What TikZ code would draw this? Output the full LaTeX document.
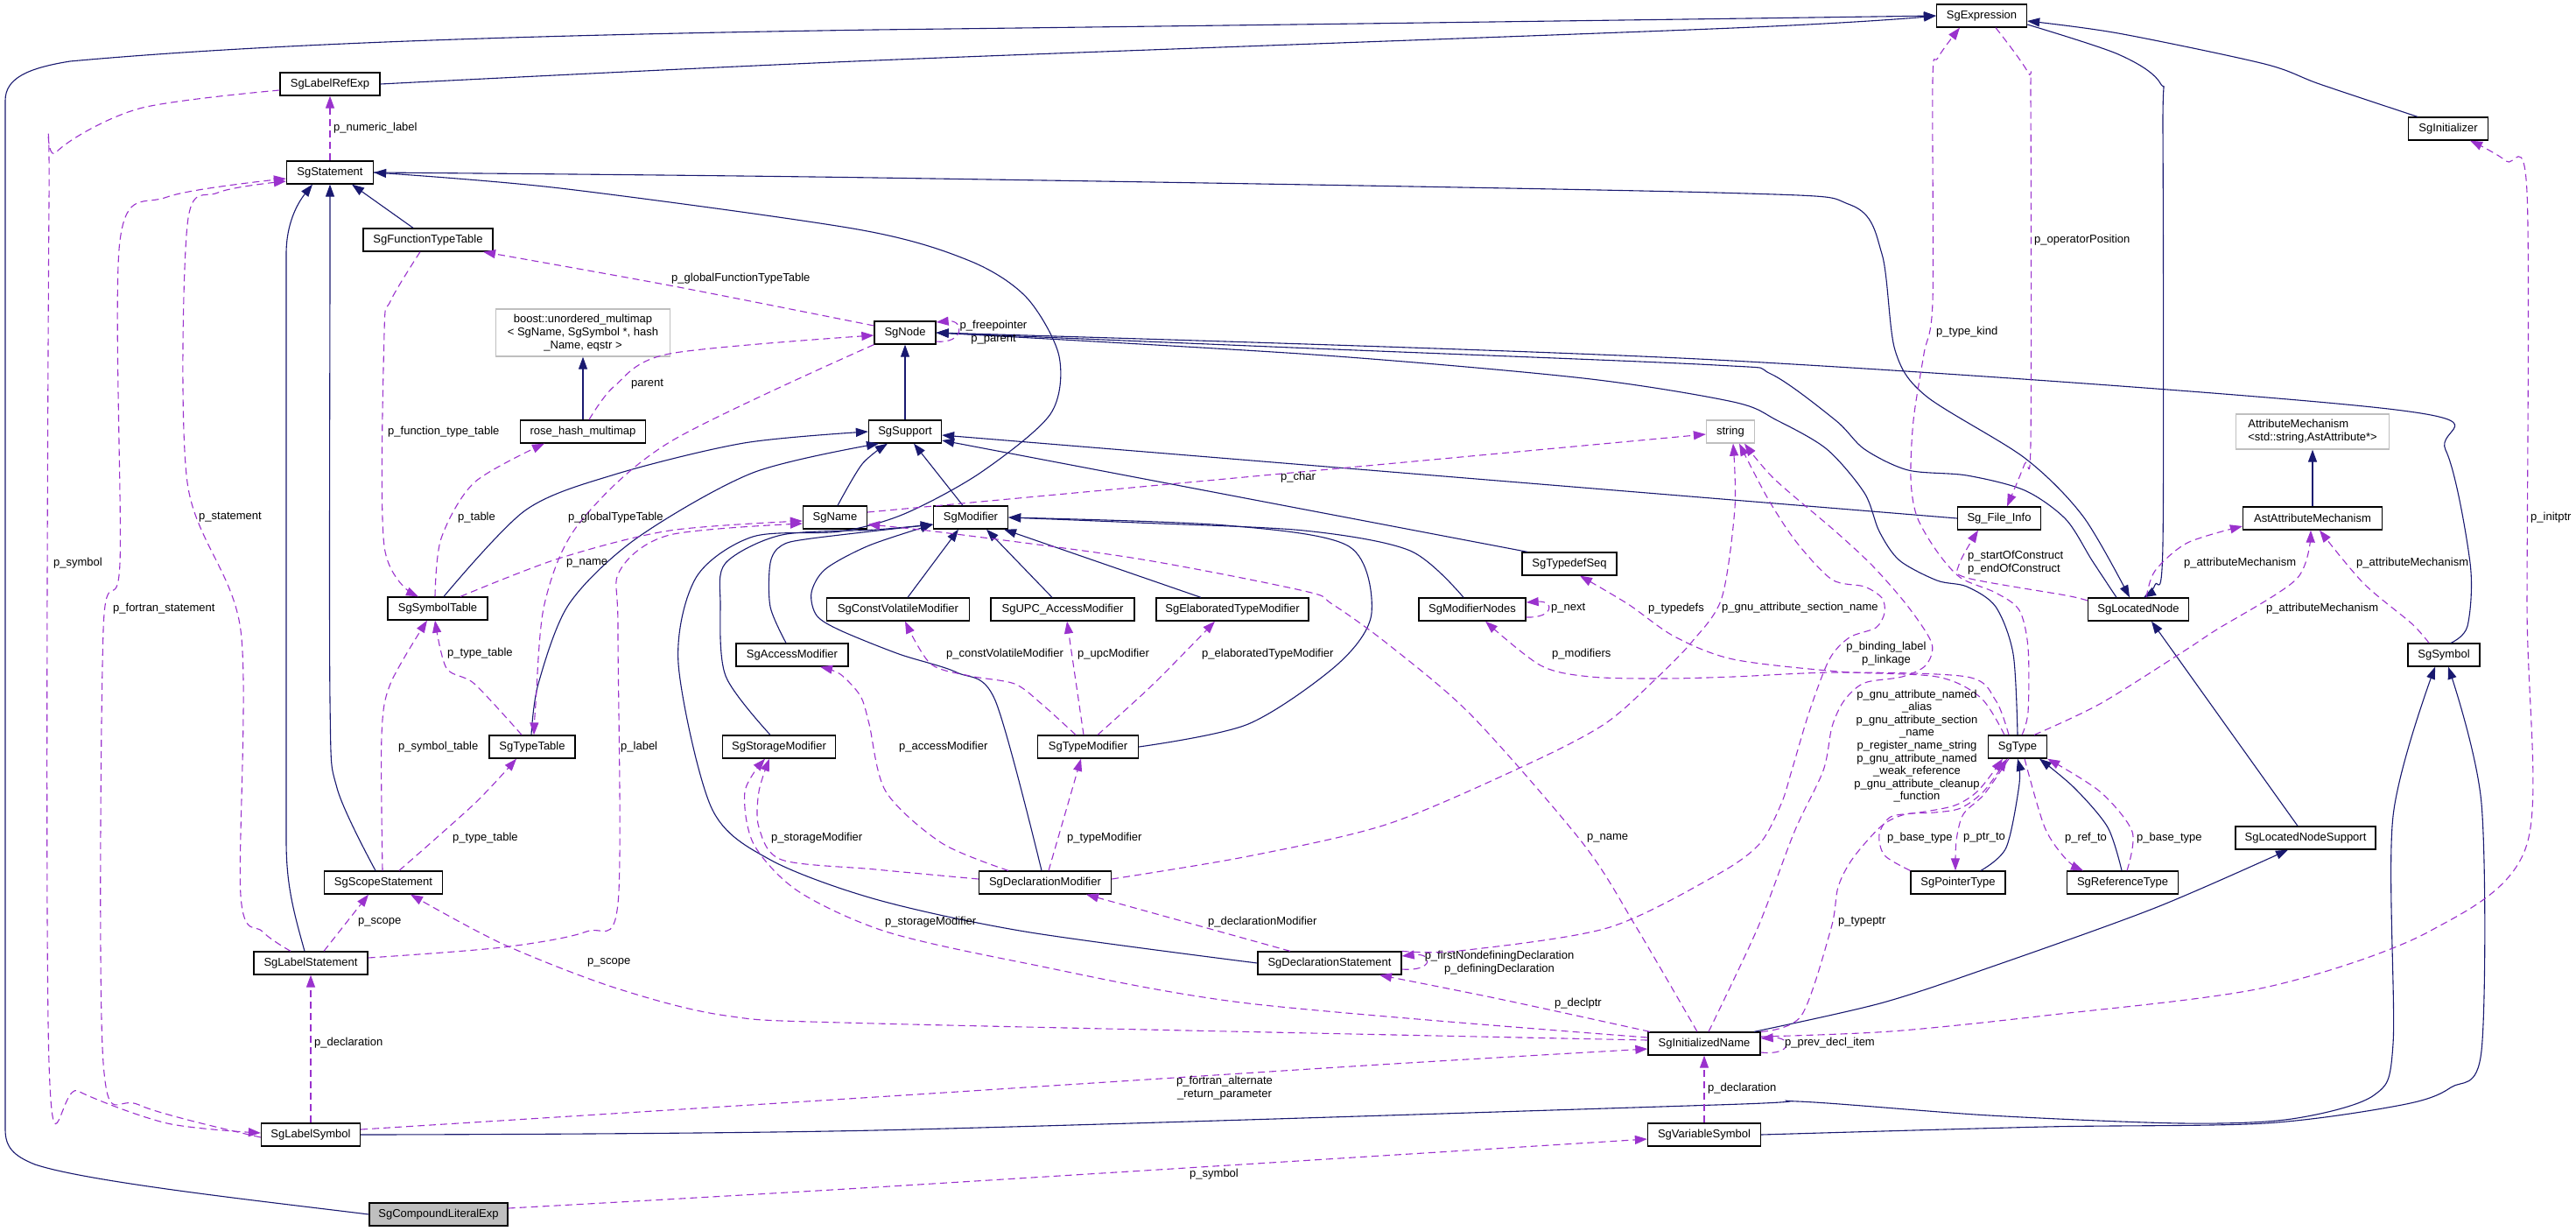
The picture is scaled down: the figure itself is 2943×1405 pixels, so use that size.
\documentclass[tikz,border=0pt]{standalone}
\usepackage{fontspec}
\setmainfont{Liberation Sans}
\usetikzlibrary{arrows.meta}
\definecolor{navyc}{HTML}{191970}
\definecolor{purpc}{HTML}{9A32CD}
\definecolor{grayb}{HTML}{BFBFBF}
\newcommand\dfont{\fontsize{13}{15}\selectfont}
\tikzset{
  cls/.style={draw=black, line width=1.3pt, minimum height=26pt, inner sep=0pt, font=\dfont, fill=white},
  gcls/.style={cls, draw=grayb},
  inh/.style={draw=navyc, line width=1.1pt, -{Triangle[length=14pt,width=10pt]}},
  use/.style={draw=purpc, line width=1.1pt, dash pattern=on 8pt off 5pt, -{Triangle[length=14pt,width=10pt]}},
  lb/.style={font=\dfont, inner sep=0pt, anchor=west},
  lbc/.style={font=\dfont, inner sep=0pt, align=center},
  sm/.style={smooth, tension=0.5}
}
\begin{document}
\begin{tikzpicture}[x=1pt,y=-1pt]
\fill[white] (0,0) rectangle (2943,1405);
\useasboundingbox (0,0) rectangle (2943,1405);

% ---------------- nodes ----------------
\node[cls, minimum width=103pt] (expr) at (2264,18) {SgExpression};
\node[cls, minimum width=114pt] (labelref) at (377,96) {SgLabelRefExp};
\node[cls, minimum width=91pt] (init) at (2797,147) {SgInitializer};
\node[cls, minimum width=99pt] (stmt) at (377,197) {SgStatement};
\node[cls, minimum width=148pt] (ftt) at (489,274) {SgFunctionTypeTable};
\node[gcls, minimum width=199pt, minimum height=54pt, align=center] (boost) at (666,380) {boost::unordered\_multimap\\< SgName, SgSymbol *, hash\\\_Name, eqstr >};
\node[cls, minimum width=143pt] (rhm) at (666,493) {rose\_hash\_multimap};
\node[cls, minimum width=70pt] (node) at (1034,380) {SgNode};
\node[cls, minimum width=83pt] (support) at (1034,493) {SgSupport};
\node[gcls, minimum width=55pt] (string) at (1977,493) {string};
\node[gcls, minimum width=175pt, minimum height=40pt, align=left] (attrmech) at (2642,493) {AttributeMechanism\\<std::string,AstAttribute*>};
\node[cls, minimum width=114pt] (symtab) at (500,695) {SgSymbolTable};
\node[cls, minimum width=73pt] (name) at (954,591) {SgName};
\node[cls, minimum width=85pt] (modifier) at (1109,591) {SgModifier};
\node[cls, minimum width=95pt] (fileinfo) at (2284,592) {Sg\_File\_Info};
\node[cls, minimum width=159pt] (astattr) at (2642,592) {AstAttributeMechanism};
\node[cls, minimum width=108pt] (typedefseq) at (1793,644) {SgTypedefSeq};
\node[cls, minimum width=163pt] (cvmod) at (1026,696) {SgConstVolatileModifier};
\node[cls, minimum width=164pt] (upcmod) at (1214,696) {SgUPC\_AccessModifier};
\node[cls, minimum width=174pt] (elabmod) at (1408,696) {SgElaboratedTypeModifier};
\node[cls, minimum width=122pt] (modnodes) at (1682,696) {SgModifierNodes};
\node[cls, minimum width=115pt] (locnode) at (2443,696) {SgLocatedNode};
\node[cls, minimum width=128pt] (accmod) at (905,748) {SgAccessModifier};
\node[cls, minimum width=82pt] (symbol) at (2792,748) {SgSymbol};
\node[cls, minimum width=98pt] (typetab) at (608,853) {SgTypeTable};
\node[cls, minimum width=129pt] (stormod) at (890,853) {SgStorageModifier};
\node[cls, minimum width=115pt] (typemod) at (1243,853) {SgTypeModifier};
\node[cls, minimum width=67pt] (type) at (2305,853) {SgType};
\node[cls, minimum width=160pt] (lns) at (2634,957) {SgLocatedNodeSupport};
\node[cls, minimum width=135pt] (scope) at (438,1008) {SgScopeStatement};
\node[cls, minimum width=151pt] (declmod) at (1194,1008) {SgDeclarationModifier};
\node[cls, minimum width=108pt] (ptrtype) at (2237,1008) {SgPointerType};
\node[cls, minimum width=127pt] (reftype) at (2425,1008) {SgReferenceType};
\node[cls, minimum width=130pt] (labelstmt) at (355,1100) {SgLabelStatement};
\node[cls, minimum width=164pt] (declstmt) at (1519,1100) {SgDeclarationStatement};
\node[cls, minimum width=128pt] (initname) at (1947,1192) {SgInitializedName};
\node[cls, minimum width=113pt] (labelsym) at (355,1296) {SgLabelSymbol};
\node[cls, minimum width=129pt] (varsym) at (1947,1296) {SgVariableSymbol};
\node[cls, minimum width=158pt, fill=grayb] (compound) at (501,1387) {SgCompoundLiteralExp};

% ---------------- inheritance (solid) ----------------
\draw[inh] (compound.west) .. controls (300,1372) and (100,1350) .. (40,1330) .. controls (15,1320) and (6,1310) .. (6,1290) -- (6,115) .. controls (6,90) and (30,78) .. (80,70) .. controls (300,50) and (600,40) .. (1000,34) .. controls (1500,28) and (2000,21) .. (expr.west);
\draw[inh] plot[sm] coordinates {(labelref.east) (1000,69) (1980,32) (expr.west)};
\draw[inh] plot[sm] coordinates {([xshift=-35pt]init.north) (2650,96) (2587,73) (2420,38) ([yshift=-6pt]expr.east)};
\draw[inh] plot[sm] coordinates {([yshift=-10pt]expr.east) (2420,62) (2468,95) (2471,150) (2471,620) (2462,668) ([xshift=6pt]locnode.north)};
\draw[inh] plot[sm] coordinates {(stmt.east) (1000,203) (1960,220) (2114,234) (2150,290) (2165,400) (2200,452) (2313,523) (2380,590) ([xshift=-10pt]locnode.north)};
\draw[inh] plot[sm] coordinates {(declstmt.west) (1171,1064) (1000,1027) (880,982) (813,923) (775,758) (795,660) (860,613) (960,607) (1033,587) (1120,540) (1200,473) (1210,407) (1173,340) (1108,298) (980,262) (640,215) (stmt.east)};
\draw[inh] ([xshift=-17pt]ftt.north) -- ([xshift=25pt]stmt.south);
\draw[inh] plot[sm] coordinates {([xshift=-9pt]scope.north) (385,900) (377,800) (377,300) (stmt.south)};
\draw[inh] ([xshift=-7pt]labelstmt.north) .. controls (335,1040) and (327,1010) .. (327,960) -- (327,290) .. controls (327,255) and (340,232) .. ([xshift=-20pt]stmt.south);
\draw[inh] plot[sm] coordinates {([xshift=7pt]symtab.north) (600,583) (702,542) (850,506) (support.west)};
\draw[inh] plot[sm] coordinates {([xshift=-1pt]typetab.north) (615,781) (650,690) (727,615) (860,540) ([xshift=-30pt]support.south)};
\draw[inh] plot[sm] coordinates {([xshift=3pt]name.north) (985,530) ([xshift=-20pt]support.south)};
\draw[inh] ([xshift=-9pt]modifier.north) -- ([xshift=10pt]support.south);
\draw[inh] (fileinfo.west) -- ([yshift=-4pt]support.east);
\draw[inh] ([xshift=-48pt]typedefseq.north) -- ([yshift=-10pt]support.east);
\draw[inh] (support.north) -- (node.south);
\draw[inh] plot[sm] coordinates {([xshift=-25pt]locnode.north) (2390,640) (2360,593) (2313,560) (2247,543) (2180,537) (2130,513) (2097,480) (2023,427) (1960,417) (1500,398) (node.east)};
\draw[inh] plot[sm] coordinates {(type.north) (2300,747) (2280,693) (2247,670) (2213,663) (2170,640) (2147,607) (2130,563) (2087,513) (2030,480) (1980,459) (1809,432) (1500,405) (node.east)};
\draw[inh] plot[sm] coordinates {([xshift=8pt]symbol.north) (2819,715) (2822,643) (2794,514) (2737,468) (1960,411) (node.east)};
\draw[inh] ([xshift=11pt]cvmod.north) -- ([xshift=-14pt]modifier.south);
\draw[inh] ([xshift=-12pt]upcmod.north) -- ([xshift=18pt]modifier.south);
\draw[inh] ([xshift=-36pt]elabmod.north) -- ([xshift=38pt]modifier.south);
\draw[inh] plot[sm] coordinates {([xshift=-10pt]modnodes.north) (1611,629) (1490,606) (1300,597) (modifier.east)};
\draw[inh] plot[sm] coordinates {(typemod.east) (1426,827) (1529,758) (1567,700) (1541,624) (1400,600) (modifier.east)};
\draw[inh] plot[sm] coordinates {([xshift=-7pt]accmod.north) (880,693) (880,643) (893,623) (927,615) ([yshift=-8pt]modifier.west)};
\draw[inh] plot[sm] coordinates {([xshift=-10pt]stormod.north) (829,772) (823,690) (829,643) (893,611) (1000,605) ([yshift=-8pt]modifier.west)};
\draw[inh] plot[sm] coordinates {([xshift=-4pt]declmod.north) (1137,800) (1093,768) (1027,747) (960,720) (933,703) (927,677) (943,650) (993,623) ([yshift=-8pt]modifier.west)};
\draw[inh] plot[sm] coordinates {([xshift=26pt]ptrtype.north) (2292,968) (2307,895) (type.south)};
\draw[inh] plot[sm] coordinates {([xshift=-1pt]reftype.north) (2408,945) (2370,900) ([xshift=25pt]type.south)};
\draw[inh] plot[sm] coordinates {(labelsym.east) (1000,1291) (1960,1262) (2054,1258) (2273,1274) (2493,1283) (2618,1278) (2712,1251) (2734,1192) (2734,932) ([xshift=-10pt]symbol.south)};
\draw[inh] plot[sm] coordinates {(varsym.east) (2336,1287) (2587,1283) (2744,1262) (2800,1242) (2835,1200) (2835,918) ([xshift=5pt]symbol.south)};
\draw[inh] plot[sm] coordinates {([xshift=57pt]initname.north) (2148,1146) (2273,1105) (2462,1037) ([xshift=-20pt]lns.south)};
\draw[inh] ([xshift=-9pt]lns.north) -- ([xshift=15pt]locnode.south);
\draw[inh] (rhm.north) -- (boost.south);
\draw[inh] (astattr.north) -- (attrmech.south);

% ---------------- usage (dashed) ----------------
\draw[use] (stmt.north) -- (labelref.south);
\node[lb] (l1) at (381,146) {p\_numeric\_label};
\draw[use] plot[sm] coordinates {([yshift=-7pt]labelref.west) (159,124) (64,174) (56,230) (56,1214) (89,1246) (191,1283) ([yshift=2pt]labelsym.west)};
\node[lb] (l2) at (61,643) {p\_symbol};
\draw[use] plot[sm] coordinates {([yshift=-3pt]labelsym.west) (159,1262) (118,1214) (118,720) (137,643) (137,275) (191,225) ([yshift=-7pt]stmt.west)};
\node[lb] (l3) at (129,695) {p\_fortran\_statement};
\draw[use] plot[sm] coordinates {([xshift=-23pt]labelstmt.north) (300,1064) (275,1023) (275,720) (214,551) (214,257) (249,220) ([yshift=-10pt]stmt.west)};
\node[lb] (l4) at (227,591) {p\_statement};
\draw[use] plot[sm] coordinates {([xshift=-9pt]ftt.south) (446,344) (439,380) (439,624) ([xshift=-22pt]symtab.north)};
\node[lb] (l5) at (443,493) {p\_function\_type\_table};
\draw[use] plot[sm] coordinates {([yshift=8pt]node.west) (765,326) ([xshift=63pt]ftt.south)};
\node[lb] (l6) at (767,318) {p\_globalFunctionTypeTable};
\draw[use] plot[sm] coordinates {([xshift=7pt]rhm.north) (702,441) (765,404) ([yshift=-3pt]node.west)};
\node[lb] (l7) at (721,439) {parent};
\draw[use] plot[sm] coordinates {([xshift=-3pt]symtab.north) (504,615) (542,551) ([xshift=-44pt]rhm.south)};
\node[lb] (l8) at (523,591) {p\_table};
\draw[use] plot[sm] coordinates {(node.south west) (765,505) (660,600) (622,690) (612,804) ([xshift=2pt]typetab.north)};
\node[lb] (l9) at (649,591) {p\_globalTypeTable};
\draw[use] plot[sm] coordinates {([xshift=26pt]symtab.north) (638,638) (765,606) ([yshift=-4pt]name.west)};
\node[lb] (l10) at (647,643) {p\_name};
\draw[use] plot[sm] coordinates {([yshift=6pt]labelstmt.east) (574,1082) (670,1064) (706,1032) (706,720) (708,652) (765,611) ([yshift=-7pt]name.west)};
\node[lb] (l11) at (709,853) {p\_label};
\draw[use] plot[sm] coordinates {([xshift=-12pt]typetab.north) (542,781) (510,763) ([xshift=-3pt]symtab.south)};
\node[lb] (l12) at (511,746) {p\_type\_table};
\draw[use] plot[sm] coordinates {([xshift=-1pt]scope.north) (436,840) (446,781) ([xshift=-12pt]symtab.south)};
\node[lb] (l13) at (455,853) {p\_symbol\_table};
\draw[use] plot[sm] coordinates {([xshift=18pt]scope.north) (542,918) ([xshift=-18pt]typetab.south)};
\node[lb] (l14) at (517,957) {p\_type\_table};
\draw[use] ([xshift=15pt]labelstmt.north) -- ([xshift=-17pt]scope.south);
\node[lb] (l15) at (409,1053) {p\_scope};
\draw[use] (labelsym.north) -- (labelstmt.south);
\node[lb] (l16) at (359,1191) {p\_declaration};
\draw[use] plot[sm] coordinates {([yshift=4pt]initname.west) (1000,1169) (829,1160) (702,1128) (574,1078) ([xshift=31pt]scope.south)};
\node[lb] (l17) at (671,1099) {p\_scope};
\draw[use] plot[sm] coordinates {([yshift=7pt]initname.west) (1426,1146) (1171,1100) (1012,1064) (912,1018) (861,964) (851,904) ([xshift=-16pt]stormod.south)};
\node[lb] (l18) at (1011,1053) {p\_storageModifier};
\draw[use] plot[sm] coordinates {([yshift=4pt]declmod.west) (1000,993) (893,982) (867,945) (867,904) ([xshift=-11pt]stormod.south)};
\node[lb] (l19) at (881,957) {p\_storageModifier};
\draw[use] plot[sm] coordinates {([xshift=-42pt]declmod.north) (1076,963) (1012,904) (993,827) (983,795) (960,770) ([xshift=32pt]accmod.south)};
\node[lb] (l20) at (1027,853) {p\_accessModifier};
\draw[use] plot[sm] coordinates {([xshift=-14pt]typemod.north) (1190,804) (1159,781) (1108,772) (1063,758) ([xshift=8pt]cvmod.south)};
\node[lb] (l21) at (1081,747) {p\_constVolatileModifier};
\draw[use] ([xshift=-5pt]typemod.north) -- ([xshift=5pt]upcmod.south);
\node[lb] (l22) at (1231,747) {p\_upcModifier};
\draw[use] plot[sm] coordinates {([xshift=11pt]typemod.north) (1318,781) ([xshift=-20pt]elabmod.south)};
\node[lb] (l23) at (1373,747) {p\_elaboratedTypeModifier};
\draw[use] ([xshift=4pt]declmod.north) -- ([xshift=-8pt]typemod.south);
\node[lb] (l24) at (1219,957) {p\_typeModifier};
\draw[use] ([xshift=-45pt]declstmt.north) -- ([xshift=47pt]declmod.south);
\node[lb] (l25) at (1380,1053) {p\_declarationModifier};
\draw[use] ([yshift=-7pt]declstmt.east) .. controls (1638,1110) and (1638,1088) .. ([yshift=8pt]declstmt.east);
\node[lbc] (l26) at (1713,1100) {p\_firstNondefiningDeclaration\\p\_definingDeclaration};
\draw[use] plot[sm] coordinates {([xshift=-62pt]initname.north) (1713,1141) ([xshift=57pt]declstmt.south)};
\node[lb] (l27) at (1776,1146) {p\_declptr};
\draw[use] plot[sm] coordinates {([xshift=-8pt]initname.north) (1870,1060) (1809,964) (1682,818) (1586,736) (1522,690) (1490,675) (1299,638) (1076,608) ([yshift=-8pt]name.east)};
\node[lb] (l28) at (1813,957) {p\_name};
\draw[use] plot[sm] coordinates {([xshift=65pt]initname.north) (2058,1160) (2092,1060) (2100,1013) (2117,980) (2150,943) (2177,930) (2210,928) (2240,923) (2267,903) ([xshift=-12pt]type.south)};
\node[lb] (l29) at (2100,1053) {p\_typeptr};
\draw[use] ([yshift=-10pt]initname.east) .. controls (2048,1206) and (2048,1184) .. ([yshift=6pt]initname.east);
\node[lb] (l30) at (2039,1191) {p\_prev\_decl\_item};
\draw[use] plot[sm] coordinates {([yshift=8pt]initname.east) (2160,1178) (2336,1160) (2587,1128) (2775,1064) (2887,964) (2887,690) (2887,220) (2863,184) ([xshift=25pt]init.south)};
\node[lb] (l31) at (2891,591) {p\_initptr};
\draw[use] plot[sm] coordinates {([yshift=6pt]labelsym.east) (1000,1253) (1560,1217) ([yshift=-6pt]initname.west)};
\node[lbc] (l32) at (1399,1243) {p\_fortran\_alternate\\\_return\_parameter};
\draw[use] (varsym.north) -- (initname.south);
\node[lb] (l33) at (1951,1243) {p\_declaration};
\draw[use] plot[sm] coordinates {([yshift=7pt]compound.east) (1000,1356) ([yshift=-5pt]varsym.west)};
\node[lb] (l34) at (1359,1341) {p\_symbol};
\draw[use] ([yshift=-9pt]modnodes.east) .. controls (1776,706) and (1776,686) .. ([yshift=8pt]modnodes.east);
\node[lb] (l35) at (1772,695) {p\_next};
\draw[use] plot[sm] coordinates {([xshift=-10pt]type.north) (2280,800) (2247,773) (2100,768) (1980,773) (1900,775) (1817,773) (1760,760) ([xshift=15pt]modnodes.south)};
\node[lb] (l36) at (1773,747) {p\_modifiers};
\draw[use] plot[sm] coordinates {([xshift=-15pt]type.north) (2263,797) (2213,773) (2100,767) (1980,753) (1913,727) (1860,690) ([xshift=12pt]typedefseq.south)};
\node[lb] (l37) at (1883,695) {p\_typedefs};
\draw[use] plot[sm] coordinates {([yshift=4pt]declmod.east) (1426,978) (1586,941) (1745,873) (1833,827) (1890,777) (1933,733) (1967,683) (1982,580) ([xshift=3pt]string.south)};
\node[lb] (l38) at (1967,694) {p\_gnu\_attribute\_section\_name};
\draw[use] plot[sm] coordinates {(declstmt.north east) (1667,1086) (1836,1060) (1960,1000) (2010,964) (2035,918) (2047,880) (2067,813) (2090,753) (2113,728) (2143,717) (2153,700) (2150,683) (2130,670) (2093,662) (2053,620) (2020,570) ([xshift=10pt]string.south)};
\node[lbc] (l39) at (2155,747) {p\_binding\_label\\p\_linkage};
\draw[use] plot[sm] coordinates {([xshift=5pt]initname.north) (2008,1060) (2050,950) (2083,880) (2093,830) (2107,800) (2130,780) (2173,773) (2200,760) (2207,735) (2180,693) (2140,647) (2097,607) (2027,547) ([xshift=16pt]string.south)};
\node[lbc, font=\fontsize{13}{14.6}\selectfont] (l40) at (2190,852) {p\_gnu\_attribute\_named\\\_alias\\p\_gnu\_attribute\_section\\\_name\\p\_register\_name\_string\\p\_gnu\_attribute\_named\\\_weak\_reference\\p\_gnu\_attribute\_cleanup\\\_function};
\draw[use] plot[sm] coordinates {([xshift=5pt]type.north) (2317,813) (2317,740) (2307,697) (2280,677) (2240,660) (2213,630) (2190,590) (2183,547) (2186,480) (2198,404) (2208,344) (2208,92) (2214,66) ([xshift=-25pt]expr.south)};
\node[lb] (l41) at (2212,379) {p\_type\_kind};
\draw[use] plot[sm] coordinates {([xshift=16pt]expr.south) (2317,83) (2320,115) (2320,505) (2313,530) ([xshift=9pt]fileinfo.north)};
\node[lb] (l42) at (2324,274) {p\_operatorPosition};
\draw[use] plot[sm] coordinates {([yshift=10pt]locnode.west) (2360,680) (2247,660) (2238,645) ([xshift=-24pt]fileinfo.south)};
\node[lb, align=left] (l43) at (2248,643) {p\_startOfConstruct\\p\_endOfConstruct};
\draw[use] plot[sm] coordinates {([xshift=9pt]locnode.north) (2462,652) (2499,620) ([yshift=-9pt]astattr.west)};
\node[lb] (l44) at (2495,643) {p\_attributeMechanism};
\draw[use] plot[sm] coordinates {([xshift=19pt]type.north) (2399,804) (2493,745) (2531,720) (2624,661) ([xshift=-2pt]astattr.south)};
\node[lb] (l45) at (2589,695) {p\_attributeMechanism};
\draw[use] plot[sm] coordinates {([xshift=-17pt]symbol.north) (2755,712) (2700,666) ([xshift=8pt]astattr.south)};
\node[lb] (l46) at (2692,643) {p\_attributeMechanism};
\draw[use] ([yshift=6pt]name.east) -- ([yshift=-3pt]string.west);
\node[lb] (l47) at (1463,545) {p\_char};
\draw[use] ([yshift=-10pt]node.east) .. controls (1102,393) and (1102,365) .. ([yshift=12pt]node.east);
\node[lbc] (l48) at (1135,380) {p\_freepointer\\p\_parent};
\draw[use] plot[sm] coordinates {([xshift=-10pt]type.south) (2267,907) (2243,930) (2235,960) ([xshift=-3pt]ptrtype.north)};
\node[lb] (l49) at (2243,957) {p\_ptr\_to};
\draw[use] plot[sm] coordinates {(ptrtype.north west) (2153,977) (2147,953) (2160,933) (2193,928) (2233,920) (2260,903) ([xshift=-17pt]type.south)};
\node[lb] (l50) at (2156,957) {p\_base\_type};
\draw[use] plot[sm] coordinates {([xshift=8pt]type.south) (2336,945) (2361,982) ([xshift=-45pt]reftype.north)};
\node[lb] (l51) at (2359,957) {p\_ref\_to};
\draw[use] plot[sm] coordinates {([xshift=5pt]reftype.north) (2436,950) (2399,904) (type.south east)};
\node[lb] (l52) at (2441,957) {p\_base\_type};
\end{tikzpicture}
\end{document}
